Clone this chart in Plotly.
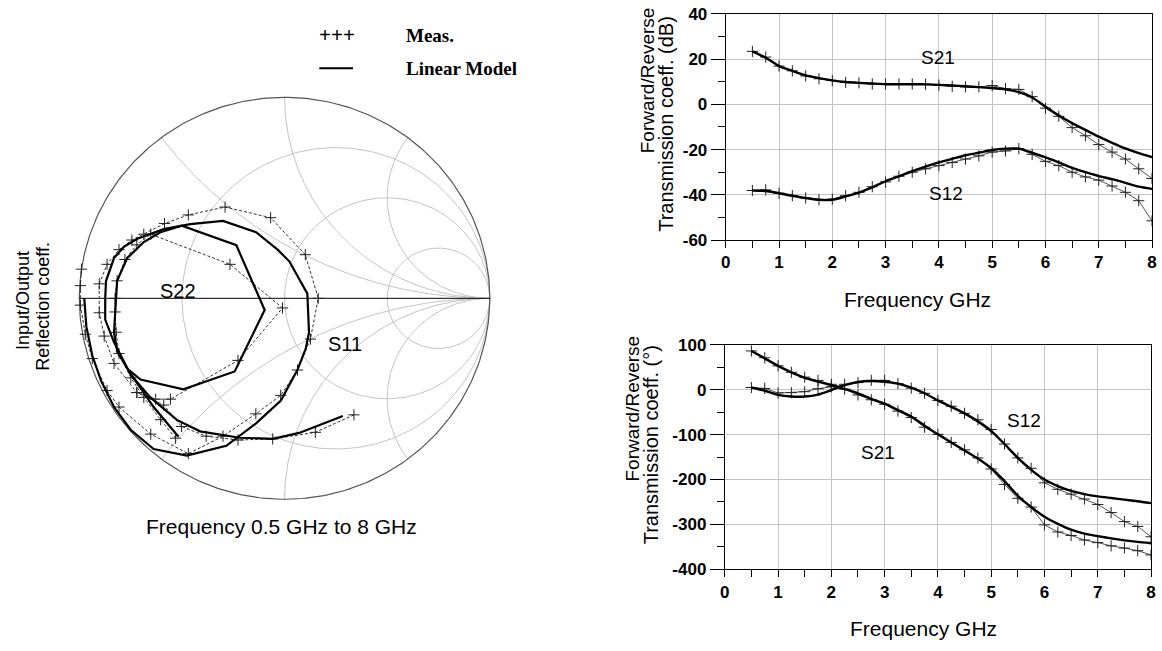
import numpy as np
import plotly.graph_objects as go

# ---------------- data ----------------
FREQ_GHZ = [0.5, 0.75, 1.0, 1.25, 1.5, 1.75, 2.0, 2.25, 2.5, 2.75, 3.0, 3.25, 3.5, 3.75, 4.0,
            4.25, 4.5, 4.75, 5.0, 5.25, 5.5, 5.75, 6.0, 6.25, 6.5, 6.75, 7.0, 7.25, 7.5, 7.75, 8.0]

S21_DB_MEAS = [23.4, 20.9, 16.9, 14.8, 12.6, 11.3, 10.5, 9.7, 9.5, 9.0, 9.0, 9.0, 9.0, 8.9, 8.5,
               8.0, 7.7, 7.7, 8.3, 6.9, 6.6, 3.4, -1.7, -5.3, -10.3, -13.9, -17.8, -21.1, -24.2, -28.5, -32.8]
S21_DB_MODEL = [23.4, 20.6, 16.9, 14.8, 12.8, 11.6, 10.6, 9.9, 9.5, 9.2, 8.9, 8.9, 8.9, 8.8, 8.6,
                8.3, 8.0, 7.6, 7.2, 6.6, 5.4, 3.0, -1.0, -4.9, -8.3, -11.3, -14.3, -17.0, -19.5, -21.6, -23.3]
S12_DB_MEAS = [-38.1, -37.8, -39.3, -40.4, -41.4, -42.2, -41.9, -40.4, -38.9, -36.4, -34.3, -31.8, -30.0, -28.5, -27.1,
               -25.7, -24.2, -22.8, -21.1, -20.6, -19.6, -22.1, -25.2, -27.1, -30.0, -32.1, -33.5, -36.1, -38.9, -42.6, -51.5]
S12_DB_MODEL = [-38.1, -38.3, -39.3, -40.4, -41.4, -42.2, -42.2, -40.7, -39.0, -36.7, -34.0, -31.8, -29.5, -27.5, -25.7,
                -24.1, -22.5, -21.4, -20.2, -19.6, -19.6, -21.4, -23.5, -25.7, -28.1, -30.0, -31.7, -33.1, -34.7, -36.4, -37.4]

S21_PH_MEAS = [86.5, 71.3, 53.3, 38.9, 28.1, 20.9, 12.2, 1.4, -11.5, -22.3, -32.4, -47.6, -62.0, -83.6, -99.4,
               -117.4, -134.0, -152.0, -176.5, -211.1, -242.1, -261.5, -301.2, -317.0, -324.9, -335.0, -340.8, -348.0, -353.0, -358.8, -368.2]
S21_PH_MODEL = [86.5, 69.9, 53.3, 38.9, 26.7, 18.0, 10.1, 1.4, -7.9, -20.2, -31.0, -45.4, -59.8, -80.0, -99.4,
                -117.4, -135.4, -153.5, -175.1, -203.9, -236.3, -261.5, -283.1, -299.0, -312.0, -320.6, -326.4, -331.4, -335.7, -339.3, -342.2]
S12_PH_MEAS = [5.0, 2.9, -7.2, -6.5, -4.3, 2.2, 6.5, 12.2, 15.9, 20.9, 20.9, 13.7, 3.6, -7.9, -23.8,
               -36.7, -52.6, -67.0, -88.6, -121.0, -152.0, -175.1, -207.5, -221.9, -232.7, -243.5, -255.8, -273.8, -294.0, -304.8, -327.8]
S12_PH_MODEL = [5.0, -2.2, -11.5, -15.1, -15.1, -10.8, -0.7, 10.1, 17.3, 19.5, 18.0, 13.7, 5.0, -7.9, -23.8,
                -38.2, -52.6, -70.6, -92.2, -121.0, -152.0, -178.7, -200.3, -214.7, -225.5, -232.7, -237.8, -241.4, -245.0, -248.6, -252.9]

S11_MODEL_RE = [0.284, 0.071, -0.058, -0.219, -0.412, -0.525, -0.654, -0.750, -0.831, -0.874, -0.874, -0.870,
                -0.831, -0.783, -0.718, -0.589, -0.460, -0.300, -0.139, -0.034, 0.023, 0.111, 0.119, 0.103,
                0.063, -0.018, -0.139, -0.284, -0.477, -0.638, -0.750, -0.831, -0.894, -0.937, -0.966, -0.976]
S11_MODEL_IM = [-0.586, -0.670, -0.699, -0.694, -0.662, -0.605, -0.493, -0.380, -0.219, -0.106, 0.0, 0.087,
                0.200, 0.256, 0.296, 0.344, 0.369, 0.385, 0.329, 0.242, 0.184, 0.023, -0.171, -0.251,
                -0.356, -0.509, -0.622, -0.734, -0.783, -0.750, -0.654, -0.541, -0.411, -0.285, -0.140, 0.0]
S11_MEAS_RE = [0.338, 0.150, -0.058, -0.227, -0.382, -0.502, -0.589, -0.720, -0.831, -0.879, -0.903, -0.903,
               -0.865, -0.807, -0.744, -0.686, -0.585, -0.469, -0.290, -0.068, 0.101, 0.164, 0.126, 0.063,
               -0.019, -0.140, -0.300, -0.469, -0.652, -0.807, -0.865, -0.937, -0.971, -0.995, -0.995, -0.990]
S11_MEAS_IM = [-0.580, -0.667, -0.700, -0.705, -0.686, -0.638, -0.531, -0.469, -0.324, -0.188, -0.072, 0.072,
               0.169, 0.242, 0.290, 0.319, 0.372, 0.415, 0.454, 0.401, 0.217, 0.0, -0.203, -0.357,
               -0.483, -0.575, -0.686, -0.773, -0.676, -0.541, -0.459, -0.300, -0.179, -0.034, 0.063, 0.145]

S22_MODEL_RE = [-0.517, -0.638, -0.749, -0.815, -0.831, -0.823, -0.816, -0.767, -0.686, -0.605, -0.501,
                -0.235, -0.097, -0.243, -0.493, -0.702, -0.758]
S22_MODEL_IM = [-0.689, -0.541, -0.377, -0.267, -0.171, 0.0, 0.087, 0.200, 0.280, 0.329, 0.361,
                0.264, -0.058, -0.364, -0.453, -0.404, -0.357]
S22_MEAS_RE = [-0.531, -0.604, -0.686, -0.749, -0.807, -0.821, -0.826, -0.826, -0.816, -0.778, -0.720, -0.652,
               -0.266, -0.010, -0.227, -0.556, -0.628, -0.720]
S22_MEAS_IM = [-0.696, -0.604, -0.493, -0.396, -0.275, -0.169, -0.068, 0.0, 0.087, 0.193, 0.266, 0.319,
               0.169, -0.048, -0.309, -0.502, -0.502, -0.469]

R_GRID = [1 / 3, 1.0, 3.0]
X_GRID = [0.5, 1.0, 2.0]

DB_TICKS = [-60, -40, -20, 0, 20, 40]
DEG_TICKS = [-400, -300, -200, -100, 0, 100]
GHZ_TICKS = [0, 1, 2, 3, 4, 5, 6, 7, 8]

# ---------------- layout helpers ----------------
W, H = 1162, 651


def px(x, y):
    return x / W, 1 - y / H


# Smith chart placement: centre (282, 298), radius 207 px, axis range +-1.05
SC_X, SC_Y, SC_R, SC_PAD = 282, 298, 207, 1.05
smith_dom_x = [(SC_X - SC_R * SC_PAD) / W, (SC_X + SC_R * SC_PAD) / W]
smith_dom_y = [1 - (SC_Y + SC_R * SC_PAD) / H, 1 - (SC_Y - SC_R * SC_PAD) / H]

fig = go.Figure()

GRID_C = "#c4c4c4"

# Smith grid: constant-resistance circles
th = np.linspace(0, 2 * np.pi, 361)
for r in R_GRID:
    c, rad = r / (1 + r), 1 / (1 + r)
    fig.add_trace(go.Scatter(x=c + rad * np.cos(th), y=rad * np.sin(th), mode="lines",
                             line=dict(color=GRID_C, width=1), hoverinfo="skip",
                             showlegend=False, xaxis="x", yaxis="y"))
# constant-reactance arcs
rr = np.concatenate([np.linspace(0, 1, 150), np.logspace(0, 4, 300)])
for xv in X_GRID:
    for s in (1, -1):
        z = rr + 1j * s * xv
        g = (z - 1) / (z + 1)
        fig.add_trace(go.Scatter(x=g.real, y=g.imag, mode="lines",
                                 line=dict(color=GRID_C, width=1), hoverinfo="skip",
                                 showlegend=False, xaxis="x", yaxis="y"))
# outer circle and real axis
fig.add_trace(go.Scatter(x=np.cos(th), y=np.sin(th), mode="lines",
                         line=dict(color="#555555", width=1.2), hoverinfo="skip",
                         showlegend=False, xaxis="x", yaxis="y"))
fig.add_trace(go.Scatter(x=[-1, 1], y=[0, 0], mode="lines",
                         line=dict(color="black", width=1), hoverinfo="skip",
                         showlegend=False, xaxis="x", yaxis="y"))

MEAS_SMITH = dict(mode="lines+markers", line=dict(color="#333333", width=1, dash="3px,2px"),
                  marker=dict(symbol="cross-thin", size=8, line=dict(color="#222222", width=1)))
MODEL_LINE = dict(color="black", width=2.2)

for re_, im_ in ((S11_MEAS_RE, S11_MEAS_IM), (S22_MEAS_RE, S22_MEAS_IM)):
    fig.add_trace(go.Scatter(x=re_, y=im_, showlegend=False, xaxis="x", yaxis="y", **MEAS_SMITH))
for re_, im_ in ((S11_MODEL_RE, S11_MODEL_IM), (S22_MODEL_RE, S22_MODEL_IM)):
    fig.add_trace(go.Scatter(x=re_, y=im_, mode="lines", line=MODEL_LINE,
                             showlegend=False, xaxis="x", yaxis="y"))

# Cartesian plots
MEAS_CART = dict(mode="lines+markers", line=dict(color="#555555", width=1),
                 marker=dict(symbol="cross-thin", size=8, line=dict(color="#222222", width=1)))
MODEL_CART = dict(mode="lines", line=dict(color="black", width=2.4, shape="spline", smoothing=0.6))

for ys, ax in ((S21_DB_MEAS, "2"), (S12_DB_MEAS, "2"), (S21_PH_MEAS, "3"), (S12_PH_MEAS, "3")):
    fig.add_trace(go.Scatter(x=FREQ_GHZ, y=ys, showlegend=False,
                             xaxis="x" + ax, yaxis="y" + ax, **MEAS_CART))
for ys, ax in ((S21_DB_MODEL, "2"), (S12_DB_MODEL, "2"), (S21_PH_MODEL, "3"), (S12_PH_MODEL, "3")):
    fig.add_trace(go.Scatter(x=FREQ_GHZ, y=ys, showlegend=False,
                             xaxis="x" + ax, yaxis="y" + ax, **MODEL_CART))

ARIAL = "Liberation Sans, Arial, sans-serif"
TIMES = "Liberation Serif, Times New Roman, serif"
TICKFONT = dict(family=ARIAL, size=17, color="black", weight="bold")


def xax(dom):
    return dict(domain=dom, range=[0, 8], tickmode="array", tickvals=GHZ_TICKS,
                ticktext=[str(v) for v in GHZ_TICKS], showgrid=True, gridcolor=GRID_C,
                gridwidth=1.3, zeroline=False, showline=True, linecolor="black", linewidth=1,
                mirror=True, ticks="outside", ticklen=7, tickcolor="black", tickwidth=1,
                tickfont=TICKFONT, fixedrange=True,
                minor=dict(dtick=0.5, tick0=0, ticks="outside", ticklen=7, tickcolor="black",
                           showgrid=False))


def yax(dom, rng, vals, mdt):
    return dict(domain=dom, range=rng, tickmode="array", tickvals=vals,
                ticktext=[str(v) for v in vals], showgrid=True, gridcolor=GRID_C,
                gridwidth=1.3, zeroline=False, showline=True, linecolor="black", linewidth=1,
                mirror=True, ticks="outside", ticklen=14, tickcolor="black", tickwidth=1,
                tickfont=TICKFONT, fixedrange=True,
                minor=dict(dtick=mdt, tick0=0, ticks="outside", ticklen=7, tickcolor="black",
                           showgrid=False))


top_x = [727 / W, 1157 / W]
top_y = [1 - 238 / H, 1 - 5 / H]
bot_x = [726 / W, 1156 / W]
bot_y = [1 - 577 / H, 1 - 346 / H]

annotations = []


def text(s, x, y, size=19, family=ARIAL, angle=0, xanchor="center", bold=False):
    xp, yp = px(x, y)
    annotations.append(dict(text=("<b>%s</b>" % s) if bold else s, x=xp, y=yp,
                            xref="paper", yref="paper", showarrow=False, textangle=angle,
                            xanchor=xanchor, yanchor="middle",
                            font=dict(family=family, size=size, color="black")))


# legend
text("+++", 335, 27, size=21, family=TIMES, bold=True)
text("Meas.", 402, 27, size=19, family=TIMES, xanchor="left", bold=True)
text("Linear Model", 402, 61, size=19, family=TIMES, xanchor="left", bold=True)
# smith labels
text("S22", 174, 290, size=20)
text("S11", 343, 345, size=20)
text("Frequency 0.5 GHz to 8 GHz", 279, 533, size=21)
text("Input/Output", 18, 300, size=18, angle=-90)
text("Reflection coeff.", 38, 306, size=18, angle=-90)
# top plot
text("Forward/Reverse", 648, 73, size=19, angle=-90)
text("Transmission coeff. (dB)", 666, 118, size=20, angle=-90)
text("S21", 941, 50, size=19)
text("S12", 949, 190, size=19)
text("Frequency GHz", 920, 299, size=21)
# bottom plot
text("Forward/Reverse", 633, 412, size=19, angle=-90)
text("Transmission coeff. (°)", 651, 449, size=20, angle=-90)
text("S12", 1028, 424, size=19)
text("S21", 881, 457, size=19)
text("Frequency GHz", 926, 638, size=21)

lx0, ly = px(317, 61)
lx1, _ = px(351, 61)
shapes = [dict(type="line", xref="paper", yref="paper", x0=lx0, x1=lx1, y0=ly, y1=ly,
               line=dict(color="black", width=2))]

fig.update_layout(
    width=W, height=H, margin=dict(l=0, r=0, t=0, b=0),
    paper_bgcolor="white", plot_bgcolor="white", showlegend=False,
    xaxis=dict(domain=smith_dom_x, range=[-SC_PAD, SC_PAD], visible=False, fixedrange=True),
    yaxis=dict(domain=smith_dom_y, range=[-SC_PAD, SC_PAD], visible=False, fixedrange=True),
    xaxis2=xax(top_x), yaxis2=yax(top_y, [-60, 40], DB_TICKS, 10),
    xaxis3=xax(bot_x), yaxis3=yax(bot_y, [-400, 100], DEG_TICKS, 50),
    annotations=annotations, shapes=shapes,
)
fig.update_layout(xaxis2_anchor="y2", yaxis2_anchor="x2", xaxis3_anchor="y3", yaxis3_anchor="x3")

fig.write_html("out.html", config={"displayModeBar": False},
               post_script="document.body.style.margin='0';document.body.style.overflow='hidden';")
